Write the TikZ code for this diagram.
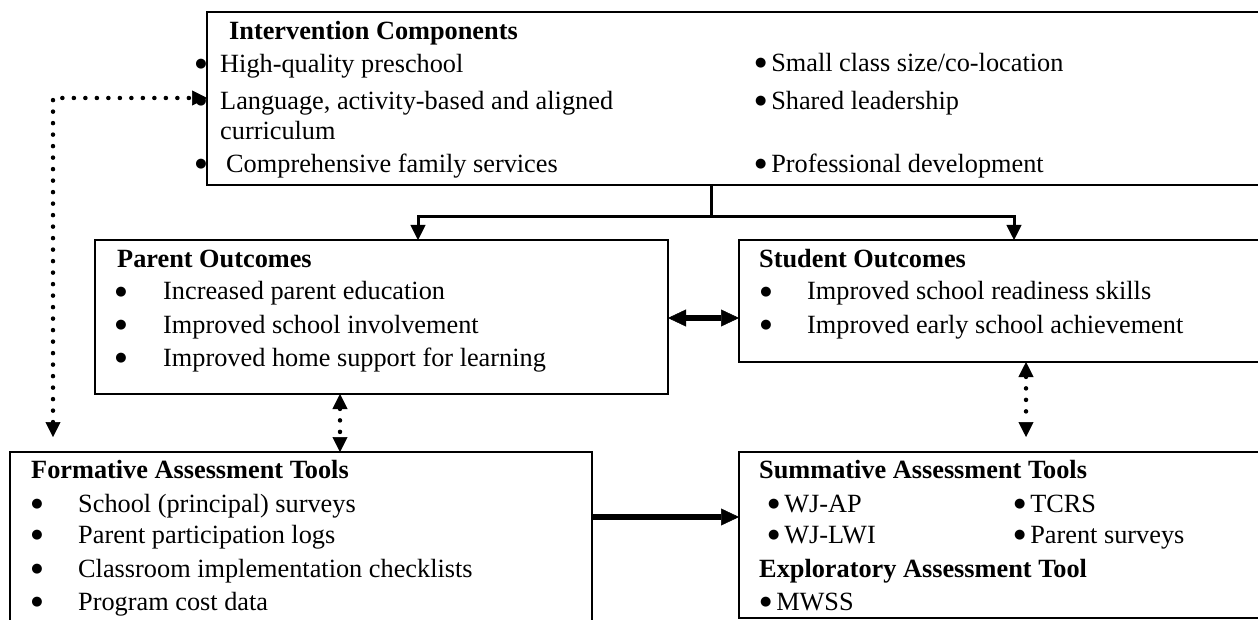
\documentclass[tikz,border=0pt]{standalone}
\usepackage{fontspec}
\setmainfont{Liberation Serif}
\newfontfamily\symfont{DejaVu Sans}
\usetikzlibrary{arrows.meta}
% a heavier round bullet, as set by the word processor
\newcommand{\bigbul}{{\symfont\fontsize{13}{14}\selectfont\raisebox{5pt}{●}}}

\begin{document}
\begin{tikzpicture}[x=1pt,y=-1pt,
  box/.style={draw,line width=2pt,anchor=north west,inner sep=0pt,outer sep=0pt},
  txt/.style={anchor=base west,inner sep=0pt,font=\fontsize{26.3}{30}\selectfont},
  ttl/.style={anchor=base west,inner sep=0pt,font=\fontsize{26.3}{30}\selectfont\bfseries},
  bul/.style={anchor=base,inner sep=0pt,font=\fontsize{26}{30}\selectfont},
  tipA/.tip={Triangle[length=15pt,width=15pt,line width=0.5pt]},
  tipB/.tip={Triangle[length=18pt,width=17pt,line width=0.5pt]},
  conn/.style={line width=3pt},
  heavy/.style={line width=5.5pt},
  dots/.style={line width=4.5pt,dash pattern=on 0pt off 11.5pt,line cap=round}]

\useasboundingbox (0,0) rectangle (1258,620);

% ---- boxes
\node[box,minimum width=1055pt,minimum height=173pt] (ic) at (207,12) {};
\node[box,minimum width=573pt,minimum height=154pt] (po) at (95,240) {};
\node[box,minimum width=523pt,minimum height=122pt] (so) at (739,240) {};
\node[box,minimum width=582pt,minimum height=190pt] (fa) at (10,452) {};
\node[box,minimum width=523pt,minimum height=166pt] (sa) at (739,452) {};

% ---- intervention components
\node[ttl] (icT) at (229,40) {Intervention Components};
\node[bul] (icb1) at (201,73) {\bigbul};
\node[txt] (ic1) at (220,73) {High-quality preschool};
\node[bul] (icb2) at (201,110) {\bigbul};
\node[txt] (ic2) at (220,110) {Language, activity-based and aligned};
\node[txt] (ic2b) at (220,140) {curriculum};
\node[bul] (icb3) at (201,173) {\bigbul};
\node[txt] (ic3) at (226,173) {Comprehensive family services};
\node[txt] (ic4) at (755,72) {\bigbul\hspace{0.18em}Small class size/co-location};
\node[txt] (ic5) at (755,110) {\bigbul\hspace{0.18em}Shared leadership};
\node[txt] (ic6) at (755,173) {\bigbul\hspace{0.18em}Professional development};

% ---- parent outcomes
\node[ttl] (poT) at (117,268) {Parent Outcomes};
\node[bul] (pob1) at (121,300) {\bigbul};
\node[txt] (po1) at (163,300) {Increased parent education};
\node[bul] (pob2) at (121,333) {\bigbul};
\node[txt] (po2) at (163,333) {Improved school involvement};
\node[bul] (pob3) at (121,366) {\bigbul};
\node[txt] (po3) at (163,366) {Improved home support for learning};

% ---- student outcomes
\node[ttl] (soT) at (759,268) {Student Outcomes};
\node[bul] (sob1) at (766,300) {\bigbul};
\node[txt] (so1) at (807,300) {Improved school readiness skills};
\node[bul] (sob2) at (766,333) {\bigbul};
\node[txt] (so2) at (807,333) {Improved early school achievement};

% ---- formative assessment
\node[ttl] (faT) at (31,478) {Formative Assessment Tools};
\node[bul] (fab1) at (37,512) {\bigbul};
\node[txt] (fa1) at (78,512) {School (principal) surveys};
\node[bul] (fab2) at (37,543) {\bigbul};
\node[txt] (fa2) at (78,543) {Parent participation logs};
\node[bul] (fab3) at (37,577) {\bigbul};
\node[txt] (fa3) at (78,577) {Classroom implementation checklists};
\node[bul] (fab4) at (37,610) {\bigbul};
\node[txt] (fa4) at (78,610) {Program cost data};

% ---- summative / exploratory assessment
\node[ttl] (saT) at (759,478) {Summative Assessment Tools};
\node[txt] (sa1) at (768,512) {\bigbul\hspace{0.18em}WJ-AP};
\node[txt] (sa2) at (1014,512) {\bigbul\hspace{0.18em}TCRS};
\node[txt] (sa3) at (768,543) {\bigbul\hspace{0.18em}WJ-LWI};
\node[txt] (sa4) at (1014,543) {\bigbul\hspace{0.18em}Parent surveys};
\node[ttl] (saE) at (759,577) {Exploratory Assessment Tool};
\node[txt] (sa5) at (760,610) {\bigbul\hspace{0.18em}MWSS};

% ---- connectors
\coordinate (split) at (711,217);
\coordinate (pl) at (418,217);
\coordinate (pr) at (1014,217);
\draw[conn] (ic.south -| split) -- (split);
\draw[conn,-tipA] (split) -- (pl) -- (pl |- po.north);
\draw[conn,-tipA] (split) -- (pr) -- (pr |- so.north);

\coordinate (mid) at (700,318);
\draw[heavy,tipB-tipB] (po.east |- mid) -- (so.west |- mid);

\coordinate (fs) at (660,517);
\draw[heavy,-tipB] (fa.east |- fs) -- (sa.west |- fs);

\coordinate (dp) at (340,420);
\draw[dots,tipA-tipA] (po.south -| dp) -- (fa.north -| dp);
\coordinate (ds) at (1026,437);
\draw[dots,tipA-tipA] (so.south -| ds) -- (ds);

\coordinate (lb) at (53,437);
\coordinate (lc) at (53,98);
\draw[dots,tipA-tipA] (lb) -- (lc) -- (ic.west |- lc);
\end{tikzpicture}
\end{document}
